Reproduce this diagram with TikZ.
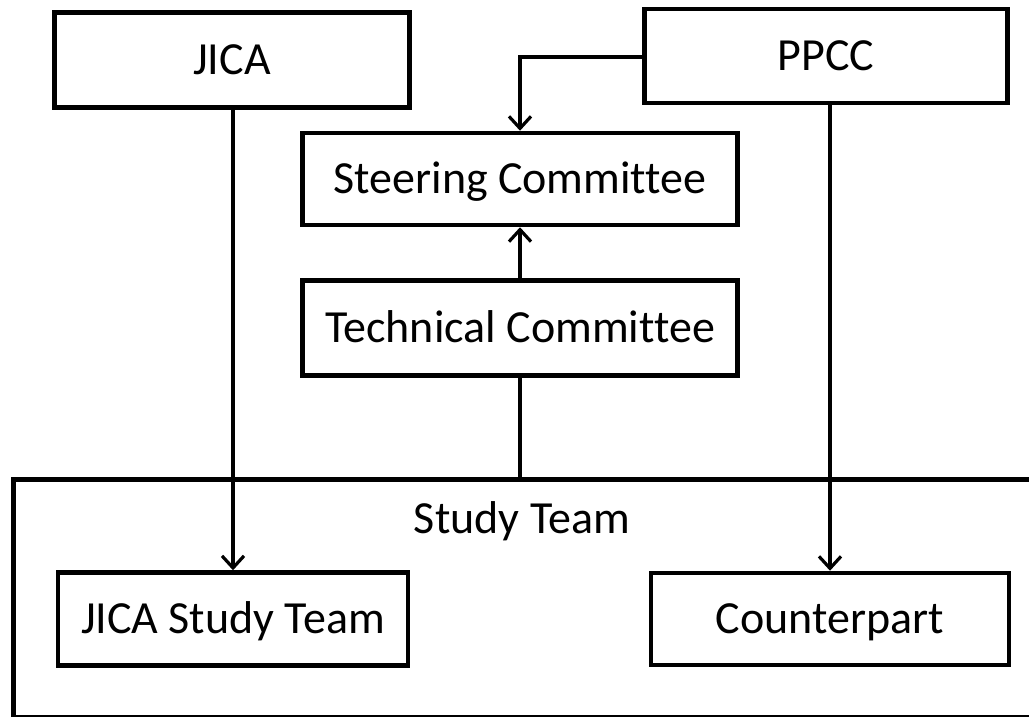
\documentclass[tikz,border=0pt]{standalone}
\usepackage{fontspec}
\setmainfont{Carlito}[Ligatures=NoCommon]
\usetikzlibrary{arrows.meta}
\begin{document}
\begin{tikzpicture}[x=1pt,y=-1pt,
  lbl/.style={font=\fontsize{46}{50}\selectfont, text height=30pt, text depth=1pt},
  box/.style={draw, line width=4.5pt, inner sep=0pt, lbl, anchor=center},
  conn/.style={line width=3.2pt},
  arr/.style={conn, -{Straight Barb[length=12pt,width=22pt,line width=3.2pt]}}]
\useasboundingbox (0,0) rectangle (1029,717);
\node[draw, line width=4.5pt, minimum width=1040pt, minimum height=238pt, anchor=north west, inner sep=0pt] (team) at (11,477) {};
\node[lbl] (teamlabel) at (522,519) {Study Team};
\node[box, minimum width=355pt, minimum height=95pt] (jica) at (232,60) {JICA};
\node[box, minimum width=363pt, minimum height=94pt] (ppcc) at (826,56) {PPCC};
\node[box, minimum width=435pt, minimum height=92pt] (steer) at (520,179) {Steering Committee};
\node[box, minimum width=435pt, minimum height=95pt] (tech) at (520,328) {Technical Committee};
\node[box, minimum width=350pt, minimum height=93pt] (jst) at (233,619) {JICA Study Team};
\node[box, minimum width=358pt, minimum height=92pt] (cp) at (830,619) {Counterpart};
\coordinate (bend) at (520,57);
\draw[arr] (jica.south -| jst.north) -- (jst.north);
\draw[arr] (ppcc.south -| cp.north) -- (cp.north);
\draw[arr] (ppcc.west |- bend) -- (bend) -- (steer.north);
\draw[arr] (tech.north) -- (steer.south);
\draw[conn] (tech.south) -- (tech.south |- team.north);
\end{tikzpicture}
\end{document}
